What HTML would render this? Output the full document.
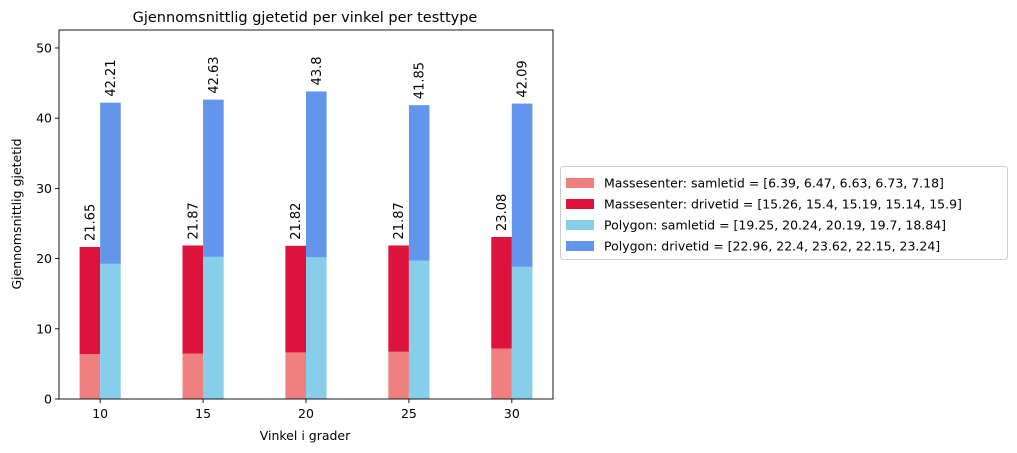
<!DOCTYPE html>
<html><head><meta charset="utf-8"><style>
body{margin:0;background:#fff;}
svg{display:block;font-family:"DejaVu Sans","Liberation Sans",sans-serif;}
</style></head><body>
<svg id="chart" width="1017" height="453" xmlns="http://www.w3.org/2000/svg">
<rect width="1017" height="453" fill="#fff"/>
<text x="305" y="22" font-size="14.5" text-anchor="middle">Gjennomsnittlig gjetetid per vinkel per testtype</text>
<g id="bars"></g>
<g id="axes"></g>
<rect x="59" y="30" width="494" height="369" fill="none" stroke="#000" stroke-width="0.9"/>
<text x="305" y="440" font-size="12.5" text-anchor="middle">Vinkel i grader</text>
<text transform="translate(21,214) rotate(-90)" font-size="12.5" text-anchor="middle">Gjennomsnittlig gjetetid</text>
<g id="legend">
<rect x="560.5" y="166.5" width="447" height="93" rx="3" fill="#fff" stroke="#ccc"/>
</g>
</svg>
<script>
const categories=[10,15,20,25,30];
const massSam=[6.39,6.47,6.63,6.73,7.18];
const massDrive=[15.26,15.4,15.19,15.14,15.9];
const polySam=[19.25,20.24,20.19,19.7,18.84];
const polyDrive=[22.96,22.4,23.62,22.15,23.24];
const massTotals=["21.65","21.87","21.82","21.87","23.08"];
const polyTotals=["42.21","42.63","43.8","41.85","42.09"];
const yTicks=[0,10,20,30,40,50];
const legendLabels=["Massesenter: samletid = [6.39, 6.47, 6.63, 6.73, 7.18]","Massesenter: drivetid = [15.26, 15.4, 15.19, 15.14, 15.9]","Polygon: samletid = [19.25, 20.24, 20.19, 19.7, 18.84]","Polygon: drivetid = [22.96, 22.4, 23.62, 22.15, 23.24]"];
const colors=["#f08080","#dc143c","#87ceeb","#6495ed"];
const NS="http://www.w3.org/2000/svg";
const X0=59,X1=553,Y0=399,Y1=30,xmin=-0.4,xmax=4.4,ymax=52.56;
const xs=v=>X0+(v-xmin)/(xmax-xmin)*(X1-X0);
const ys=v=>Y0-v/ymax*(Y0-Y1);
function mk(tag,attrs,parent){const e=document.createElementNS(NS,tag);for(const k in attrs)e.setAttribute(k,attrs[k]);parent.appendChild(e);return e;}
const bars=document.getElementById('bars'),axes=document.getElementById('axes');
const w=0.2;
categories.forEach((c,i)=>{
 const segs=[[i-w,0,massSam[i],0],[i-w,massSam[i],massSam[i]+massDrive[i],1],[i,0,polySam[i],2],[i,polySam[i],polySam[i]+polyDrive[i],3]];
 segs.forEach((s,j)=>{
  const r=mk('rect',{x:xs(s[0]),y:ys(s[2]),width:xs(s[0]+w)-xs(s[0]),height:ys(s[1])-ys(s[2]),fill:colors[s[3]]},bars);
  
  
 });
 const tops=[[i-w/2,massSam[i]+massDrive[i],massTotals[i]],[i+w/2,polySam[i]+polyDrive[i],polyTotals[i]]];
 tops.forEach((t,j)=>{
  const x=xs(t[0])+4.5,y=ys(t[1])-6;
  const tx=mk('text',{transform:`translate(${x},${y}) rotate(-90)`,'font-size':'13'},bars);
  tx.textContent=t[2];
  
  
 });
 const x=xs(i);
 const tk=mk('line',{x1:x,x2:x,y1:Y0,y2:Y0+4,stroke:'#000','stroke-width':0.9},axes);
 
 
 const tl=mk('text',{x:x,y:Y0+19,'font-size':'12.5','text-anchor':'middle'},axes);
 tl.textContent=c;
 
 
});
yTicks.forEach(v=>{
 const y=ys(v);
 const tk=mk('line',{x1:X0-4,x2:X0,y1:y,y2:y,stroke:'#000','stroke-width':0.9},axes);
 
 
 const tl=mk('text',{x:X0-7,y:y+4.5,'font-size':'12.5','text-anchor':'end'},axes);
 tl.textContent=v;
 
 
});
const lg=document.getElementById('legend');
legendLabels.forEach((l,i)=>{
 const y=183+i*21;
 const sw=mk('rect',{x:566,y:y-5,width:28,height:10,fill:colors[i]},lg);
 
 
 const t=mk('text',{x:604,y:y+4.5,'font-size':'12.5'},lg);
 t.textContent=l;
 
 
});
</script>
</body></html>
